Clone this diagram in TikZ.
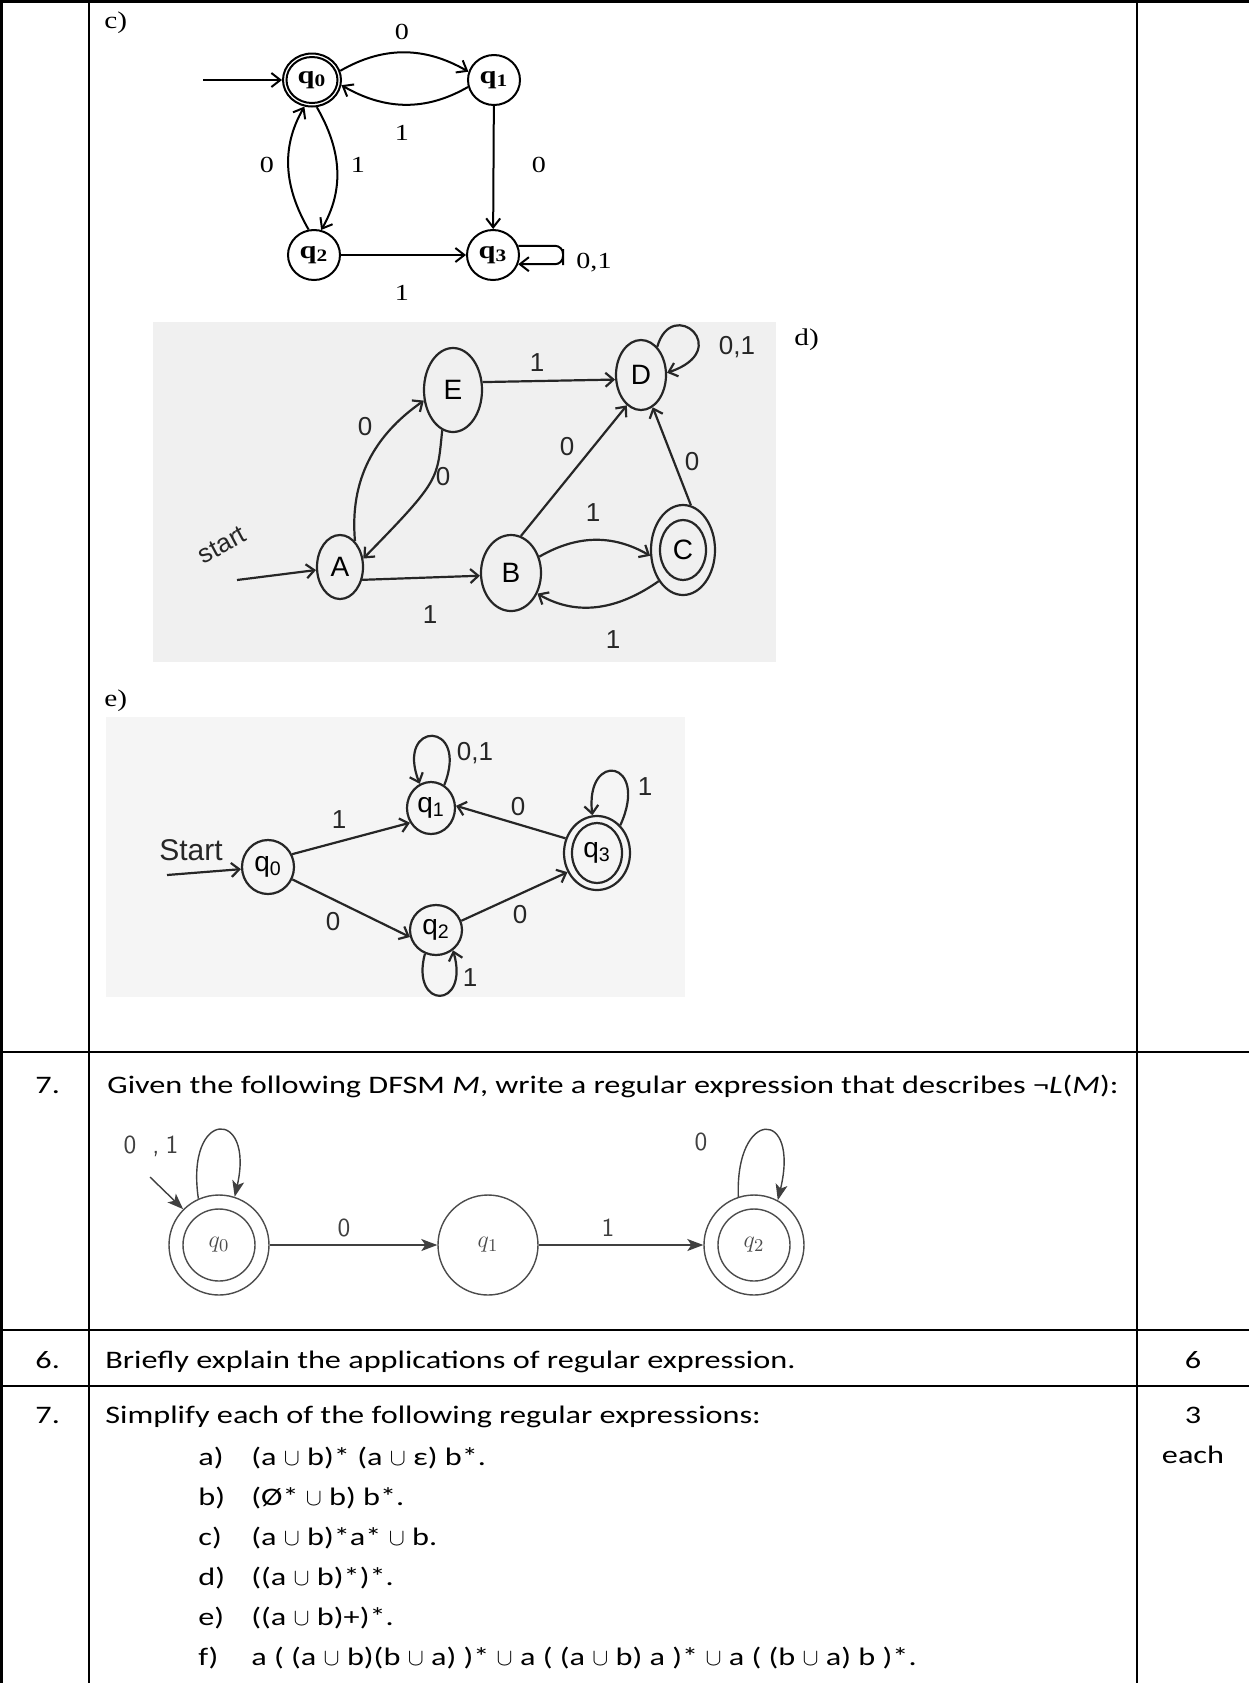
\documentclass[tikz,border=0pt]{standalone}
\usepackage{fontspec}
\setmainfont[FakeStretch=1.28]{Carlito}
\newfontfamily\tnr[FakeStretch=1.22]{Liberation Serif}
\newfontfamily\hand{Liberation Sans}
\usetikzlibrary{arrows.meta,shapes.geometric}
\newcommand{\un}{$\cup$}
\begin{document}
\begin{tikzpicture}[x=0.5pt,y=-0.5pt,
  tline/.style={line width=1.4pt,black},
  txt/.style={anchor=base west,inner sep=0pt,font=\fontsize{12.6}{14}\selectfont},
  ctxt/.style={anchor=base,inner sep=0pt,font=\fontsize{12.6}{14}\selectfont},
  cst/.style={ellipse,draw,line width=1pt,minimum width=26pt,minimum height=25pt,inner sep=0pt,font=\tnr\bfseries\fontsize{12.5}{12.5}\selectfont},
  carr/.style={line width=1pt,-{Straight Barb[length=4.5pt,width=7pt]}},
  clab/.style={inner sep=0pt,font=\tnr\fontsize{11.5}{11.5}\selectfont},
  hst/.style={ellipse,draw=black!85,line width=1.1pt,inner sep=0pt,font=\hand\fontsize{14}{14}\selectfont},
  harr/.style={draw=black!85,line width=1.1pt,-{Straight Barb[length=4pt,width=7pt]}},
  hlab/.style={inner sep=0pt,font=\hand\fontsize{13}{13}\selectfont,text=black!85},
  mst/.style={circle,draw=black!70,line width=0.7pt,inner sep=0pt,minimum size=50pt,font=\fontsize{13}{13}\selectfont,text=black!70},
  marr/.style={draw=black!75,line width=0.7pt,-{Stealth[length=8pt,width=6pt,inset=2pt]}},
  mlab/.style={inner sep=0pt,font=\sffamily\fontsize{13}{13}\selectfont,text=black!75},
]
\useasboundingbox (0,0) rectangle (1249,1683);
\fill[white] (0,0) rectangle (1249,1683);

% ---------- table lines ----------
\draw[tline] (0,1.5) -- (1249,1.5);
\draw[tline] (1.5,0) -- (1.5,1683);
\draw[tline] (89,0) -- (89,1683);
\draw[tline] (1137,0) -- (1137,1683);
\draw[tline] (0,1052) -- (1249,1052);
\draw[tline] (0,1330) -- (1249,1330);
\draw[tline] (0,1386) -- (1249,1386);

% ---------- c) ----------
\node[txt,font=\tnr\fontsize{12}{14}\selectfont] (clabel) at (104,28) {c)};
\node[cst,minimum width=29pt,minimum height=26.5pt] (cq0) at (312,80) {q\textsubscript{0}};
\node[cst,minimum width=25.5pt,minimum height=23pt] (cq0i) at (312,80) {};
\node[cst] (cq1) at (494,80) {q\textsubscript{1}};
\node[cst] (cq2) at (314,255) {q\textsubscript{2}};
\node[cst] (cq3) at (493,255) {q\textsubscript{3}};
\coordinate (cs) at (203,80);
\coordinate (cloop) at (563,257);
\draw[carr] (cs) -- (cq0);
\draw[carr] (cq0.18) to[out=30,in=150] (cq1.162);
\draw[carr] (cq1.195) to[out=210,in=-30] (cq0.-10);
\draw[carr] (cq0.-80) to[out=-60,in=60] (cq2.74);
\draw[carr] (cq2.102) to[out=120,in=-120] (cq0.-106);
\draw[carr] (cq1) -- (cq3);
\draw[carr] (cq2) -- (cq3);
\draw[carr,rounded corners=4pt] (cq3.20) -| (cloop) |- (cq3.-20);
\node[clab] (cl1) at (402,32) {0};
\node[clab] (cl2) at (402,133) {1};
\node[clab] (cl3) at (267,165) {0};
\node[clab] (cl4) at (358,165) {1};
\node[clab] (cl5) at (539,165) {0};
\node[clab] (cl6) at (402,293) {1};
\node[clab] (cl7) at (594,263) {0,1};

% ---------- d) ----------
\fill[black!6] (153,322) rectangle (776,662);
\node[hst,minimum width=23pt,minimum height=32pt] (dA) at (340,567) {A};
\node[hst,minimum width=29pt,minimum height=42pt] (dE) at (453,390) {E};
\node[hst,minimum width=25pt,minimum height=35pt] (dD) at (641,375) {D};
\node[hst,minimum width=30pt,minimum height=38pt] (dB) at (511,573) {B};
\node[hst,minimum width=32pt,minimum height=45pt] (dC) at (683,550) {};
\node[hst,minimum width=23pt,minimum height=30pt] (dCi) at (683,550) {C};
\coordinate (dS) at (237,580);
\draw[harr] (dS) -- (dA);
\draw[harr] (dA.-30) -- (dB.185);
\draw[harr] (dA.60) to[out=95,in=215] (dE.200);
\draw[harr] (dE.255) .. controls (437,480) and (441,479) .. (dA.20);
\draw[harr] (dE.15) -- (dD.190);
\draw[harr] (dB.75) -- (dD.245);
\draw[harr] (dC.80) -- (dD.290);
\draw[harr] (dB.30) to[out=30,in=150] (dC.190);
\draw[harr] (dC.232) to[out=215,in=-30] (dB.-38);
\draw[harr] (dD.60) .. controls (672,295) and (735,350) .. (dD.5);
\node[hlab,rotate=28] (dstart) at (222,545) {start};
\node[hlab] (dl1) at (365,427) {0};
\node[hlab] (dl2) at (443,477) {0};
\node[hlab] (dl3) at (537,363) {1};
\node[hlab] (dl4) at (567,447) {0};
\node[hlab] (dl5) at (692,462) {0};
\node[hlab] (dl6) at (593,513) {1};
\node[hlab] (dl7) at (613,640) {1};
\node[hlab] (dl8) at (430,615) {1};
\node[hlab] (dl9) at (737,347) {0,1};
\node[txt,font=\tnr\fontsize{12}{14}\selectfont] (dlabel) at (794,345) {d)};

% ---------- e) ----------
\node[txt,font=\tnr\fontsize{12}{14}\selectfont] (elabel) at (104,706) {e)};
\fill[black!4] (106,717) rectangle (685,997);
\node[hst,minimum width=26pt,minimum height=27pt] (eq0) at (268,867) {q\textsubscript{0}};
\node[hst,minimum width=24pt,minimum height=26pt] (eq1) at (431,808) {q\textsubscript{1}};
\node[hst,minimum width=26pt,minimum height=25pt] (eq2) at (436,930) {q\textsubscript{2}};
\node[hst,minimum width=33pt,minimum height=37pt] (eq3) at (597,853) {};
\node[hst,minimum width=25pt,minimum height=30pt] (eq3i) at (597,853) {q\textsubscript{3}};
\coordinate (eS) at (167,875);
\draw[harr] (eS) -- (eq0);
\draw[harr] (eq0.28) -- (eq1.215);
\draw[harr] (eq0.-27) -- (eq2.195);
\draw[harr] (eq3.155) -- (eq1.5);
\draw[harr] (eq2.20) -- (eq3.213);
\draw[harr] (eq1.60) .. controls (470,720) and (395,720) .. (eq1.115);
\draw[harr] (eq3.50) .. controls (650,760) and (585,750) .. (eq3.97);
\draw[harr] (eq2.245) .. controls (410,1010) and (470,1010) .. (eq2.-50);
\node[hlab,font=\hand\fontsize{15}{15}\selectfont] (estart) at (191,850) {Start};
\node[hlab] (el1) at (339,820) {1};
\node[hlab] (el2) at (333,922) {0};
\node[hlab] (el3) at (518,807) {0};
\node[hlab] (el4) at (520,915) {0};
\node[hlab] (el5) at (475,753) {0,1};
\node[hlab] (el6) at (645,787) {1};
\node[hlab] (el7) at (470,978) {1};

% ---------- row 7 (DFSM) ----------
\node[txt] (n7a) at (35,1093) {7.};
\node[txt] (q7a) at (107,1093) {Given the following DFSM \textit{M}, write a regular expression that describes ¬\textit{L}(\textit{M}):};
\node[mst] (mq0) at (219,1245) {$q_0$};
\node[mst,minimum size=36pt] (mq0i) at (219,1245) {};
\node[mst] (mq1) at (488,1245) {$q_1$};
\node[mst] (mq2) at (754,1245) {$q_2$};
\node[mst,minimum size=36pt] (mq2i) at (754,1245) {};
\coordinate (mS) at (150,1177);
\draw[marr] (mS) -- (mq0.135);
\draw[marr] (mq0) -- (mq1);
\draw[marr] (mq1) -- (mq2);
\draw[marr] (mq0.114) .. controls (185,1108) and (255,1108) .. (mq0.72);
\draw[marr] (mq2.108) .. controls (735,1108) and (800,1108) .. (mq2.62);
\node[mlab] (ml1) at (151,1146) {0\hspace{8pt},\hspace{3pt}1};
\node[mlab] (ml2) at (701,1142) {0};
\node[mlab] (ml3) at (344,1228) {0};
\node[mlab] (ml4) at (608,1228) {1};

% ---------- row 6 ----------
\node[txt] (n6) at (35,1368) {6.};
\node[txt] (q6) at (105,1368) {Briefly explain the applications of regular expression.};
\node[ctxt] (m6) at (1193,1368) {6};

% ---------- row 7 (simplify) ----------
\node[txt] (n7b) at (35,1423) {7.};
\node[txt] (q7b) at (105,1423) {Simplify each of the following regular expressions:};
\node[ctxt] (m7a) at (1193,1423) {3};
\node[ctxt] (m7b) at (1193,1463) {each};
\node[txt] (ia) at (198,1465) {a)};
\node[txt] (ta) at (251,1465) {(a \un{} b)* (a \un{} ε) b*.};
\node[txt] (ib) at (198,1505) {b)};
\node[txt] (tb) at (251,1505) {(Ø* \un{} b) b*.};
\node[txt] (ic) at (198,1545) {c)};
\node[txt] (tc) at (251,1545) {(a \un{} b)*a* \un{} b.};
\node[txt] (id) at (198,1585) {d)};
\node[txt] (td) at (251,1585) {((a \un{} b)*)*.};
\node[txt] (ie) at (198,1625) {e)};
\node[txt] (te) at (251,1625) {((a \un{} b)+)*.};
\node[txt] (iff) at (198,1665) {f)};
\node[txt] (tf) at (251,1665) {a ( (a \un{} b)(b \un{} a) )* \un{} a ( (a \un{} b) a )* \un{} a ( (b \un{} a) b )*.};
\end{tikzpicture}
\end{document}
